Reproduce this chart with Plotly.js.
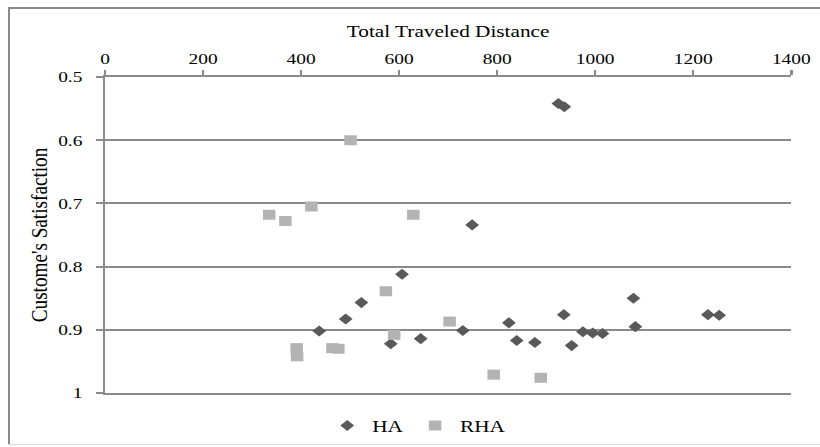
<!DOCTYPE html>
<html>
<head>
<meta charset="utf-8">
<script src="https://cdn.plot.ly/plotly-3.0.1.min.js"></script>
<style>
  html, body { margin: 0; padding: 0; background: #fff; overflow: hidden; }
  #wrap { width: 820px; height: 447px; overflow: hidden; position: relative; background: #fff; }
  #chart { width: 656px; height: 447px; transform: scaleX(1.25); transform-origin: 0 0; }
  .fl { position: absolute; pointer-events: none; }
  #fLeft { left: 8px; top: 7px; width: 2px; height: 438px; background: #8a8a8a; }
  #fTop { left: 8px; top: 7px; width: 812px; height: 2px; background: #8a8a8a; }
  #fBot { left: 8px; top: 444px; width: 812px; height: 1px; background: #d6d6d6; }
</style>
</head>
<body>
<div id="wrap"><div id="chart"></div><div class="fl" id="fLeft"></div><div class="fl" id="fTop"></div><div class="fl" id="fBot"></div></div>
<script>
// Data
const haX = [925, 937, 749, 437, 491, 523, 606, 583, 644, 730, 824, 840, 877, 936, 952, 975, 995, 1015, 1078, 1082, 1230, 1253];
const haY = [0.542, 0.547, 0.734, 0.902, 0.883, 0.857, 0.812, 0.922, 0.914, 0.901, 0.889, 0.917, 0.920, 0.876, 0.925, 0.903, 0.905, 0.906, 0.850, 0.895, 0.876, 0.877];
const rhaX = [335, 368, 421, 501, 629, 391, 392, 464, 476, 573, 590, 703, 793, 889];
const rhaY = [0.718, 0.728, 0.705, 0.600, 0.718, 0.929, 0.942, 0.929, 0.930, 0.839, 0.908, 0.887, 0.971, 0.976];
const seriesNames = ['HA', 'RHA'];
const xTitle = 'Total Traveled Distance';
const yTitle = "Custome's Satisfaction";

const fontFam = 'Liberation Serif, Times New Roman, serif';
const lineCol = '#8a8a8a';

const traces = [
  { type: 'scatter', mode: 'markers', name: seriesNames[0], x: haX, y: haY,
    marker: { symbol: 'diamond', size: 8.5, color: '#595959' } },
  { type: 'scatter', mode: 'markers', name: seriesNames[1], x: rhaX, y: rhaY,
    marker: { symbol: 'square', size: 10, color: '#b3b3b3' } }
];

const layout = {
  width: 656, height: 447,
  margin: { l: 84, r: 23, t: 77, b: 54 },
  paper_bgcolor: 'rgba(0,0,0,0)', plot_bgcolor: 'rgba(0,0,0,0)',
  font: { family: fontFam, color: '#000' },
  showlegend: true,
  legend: { orientation: 'h', xref: 'paper', yref: 'container',
            x: 0.455, xanchor: 'center', y: 0.047, yanchor: 'middle',
            font: { family: fontFam, size: 17, color: '#000' }, itemwidth: 30 },
  xaxis: {
    side: 'top', range: [0, 1400], tick0: 0, dtick: 200,
    showline: true, linecolor: lineCol, linewidth: 2, mirror: true,
    ticks: 'outside', ticklen: 5, tickwidth: 2, tickcolor: lineCol,
    showgrid: false, zeroline: false,
    tickfont: { family: fontFam, size: 15.5, color: '#000' },
    title: { text: xTitle, font: { family: fontFam, size: 17, color: '#000' }, standoff: 8 }
  },
  yaxis: {
    range: [1, 0.5], tick0: 0.5, dtick: 0.1,
    showline: true, linecolor: lineCol, linewidth: 2,
    ticks: 'outside', ticklen: 5, tickwidth: 2, tickcolor: lineCol,
    ticklabelstandoff: 8,
    showgrid: true, gridcolor: lineCol, gridwidth: 2, zeroline: false,
    tickfont: { family: fontFam, size: 15.5, color: '#000' },
    title: { text: yTitle, font: { family: fontFam, size: 19.2, color: '#000' }, standoff: 3 }
  }
};

Plotly.newPlot('chart', traces, layout, { displayModeBar: false, staticPlot: true });
</script>
</body>
</html>
